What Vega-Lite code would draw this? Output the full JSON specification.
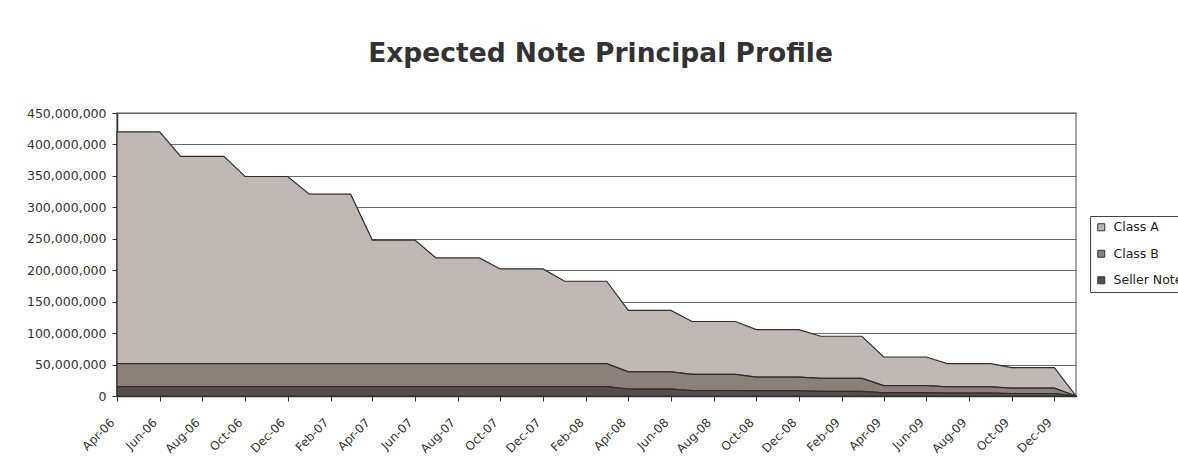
{
  "$schema": "https://vega.github.io/schema/vega-lite/v6.json",
  "autosize": "none",
  "width": 959,
  "height": 283,
  "padding": {"left": 117, "top": 113, "right": 102, "bottom": 70},
  "background": "white",
  "title": {
    "text": "Expected Note Principal Profile",
    "font": "DejaVu Sans",
    "fontSize": 26.5,
    "fontWeight": "bold",
    "color": "#333333",
    "anchor": "middle",
    "baseline": "alphabetic",
    "offset": 19,
    "dx": 4
  },
  "data": {
    "values": [
      {"m":"2006-04-01","s":"Class A","v":368500000},{"m":"2006-04-01","s":"Class B","v":36500000},{"m":"2006-04-01","s":"Seller Note","v":15000000},
      {"m":"2006-05-01","s":"Class A","v":368500000},{"m":"2006-05-01","s":"Class B","v":36500000},{"m":"2006-05-01","s":"Seller Note","v":15000000},
      {"m":"2006-06-01","s":"Class A","v":368500000},{"m":"2006-06-01","s":"Class B","v":36500000},{"m":"2006-06-01","s":"Seller Note","v":15000000},
      {"m":"2006-07-01","s":"Class A","v":329500000},{"m":"2006-07-01","s":"Class B","v":36500000},{"m":"2006-07-01","s":"Seller Note","v":15000000},
      {"m":"2006-08-01","s":"Class A","v":329500000},{"m":"2006-08-01","s":"Class B","v":36500000},{"m":"2006-08-01","s":"Seller Note","v":15000000},
      {"m":"2006-09-01","s":"Class A","v":329500000},{"m":"2006-09-01","s":"Class B","v":36500000},{"m":"2006-09-01","s":"Seller Note","v":15000000},
      {"m":"2006-10-01","s":"Class A","v":297500000},{"m":"2006-10-01","s":"Class B","v":36500000},{"m":"2006-10-01","s":"Seller Note","v":15000000},
      {"m":"2006-11-01","s":"Class A","v":297500000},{"m":"2006-11-01","s":"Class B","v":36500000},{"m":"2006-11-01","s":"Seller Note","v":15000000},
      {"m":"2006-12-01","s":"Class A","v":297500000},{"m":"2006-12-01","s":"Class B","v":36500000},{"m":"2006-12-01","s":"Seller Note","v":15000000},
      {"m":"2007-01-01","s":"Class A","v":269500000},{"m":"2007-01-01","s":"Class B","v":36500000},{"m":"2007-01-01","s":"Seller Note","v":15000000},
      {"m":"2007-02-01","s":"Class A","v":269500000},{"m":"2007-02-01","s":"Class B","v":36500000},{"m":"2007-02-01","s":"Seller Note","v":15000000},
      {"m":"2007-03-01","s":"Class A","v":269500000},{"m":"2007-03-01","s":"Class B","v":36500000},{"m":"2007-03-01","s":"Seller Note","v":15000000},
      {"m":"2007-04-01","s":"Class A","v":196500000},{"m":"2007-04-01","s":"Class B","v":36500000},{"m":"2007-04-01","s":"Seller Note","v":15000000},
      {"m":"2007-05-01","s":"Class A","v":196500000},{"m":"2007-05-01","s":"Class B","v":36500000},{"m":"2007-05-01","s":"Seller Note","v":15000000},
      {"m":"2007-06-01","s":"Class A","v":196500000},{"m":"2007-06-01","s":"Class B","v":36500000},{"m":"2007-06-01","s":"Seller Note","v":15000000},
      {"m":"2007-07-01","s":"Class A","v":168000000},{"m":"2007-07-01","s":"Class B","v":36500000},{"m":"2007-07-01","s":"Seller Note","v":15000000},
      {"m":"2007-08-01","s":"Class A","v":168000000},{"m":"2007-08-01","s":"Class B","v":36500000},{"m":"2007-08-01","s":"Seller Note","v":15000000},
      {"m":"2007-09-01","s":"Class A","v":168000000},{"m":"2007-09-01","s":"Class B","v":36500000},{"m":"2007-09-01","s":"Seller Note","v":15000000},
      {"m":"2007-10-01","s":"Class A","v":150500000},{"m":"2007-10-01","s":"Class B","v":36500000},{"m":"2007-10-01","s":"Seller Note","v":15000000},
      {"m":"2007-11-01","s":"Class A","v":150500000},{"m":"2007-11-01","s":"Class B","v":36500000},{"m":"2007-11-01","s":"Seller Note","v":15000000},
      {"m":"2007-12-01","s":"Class A","v":150500000},{"m":"2007-12-01","s":"Class B","v":36500000},{"m":"2007-12-01","s":"Seller Note","v":15000000},
      {"m":"2008-01-01","s":"Class A","v":131000000},{"m":"2008-01-01","s":"Class B","v":36500000},{"m":"2008-01-01","s":"Seller Note","v":15000000},
      {"m":"2008-02-01","s":"Class A","v":131000000},{"m":"2008-02-01","s":"Class B","v":36500000},{"m":"2008-02-01","s":"Seller Note","v":15000000},
      {"m":"2008-03-01","s":"Class A","v":131000000},{"m":"2008-03-01","s":"Class B","v":36500000},{"m":"2008-03-01","s":"Seller Note","v":15000000},
      {"m":"2008-04-01","s":"Class A","v":97500000},{"m":"2008-04-01","s":"Class B","v":27500000},{"m":"2008-04-01","s":"Seller Note","v":11000000},
      {"m":"2008-05-01","s":"Class A","v":97500000},{"m":"2008-05-01","s":"Class B","v":27500000},{"m":"2008-05-01","s":"Seller Note","v":11000000},
      {"m":"2008-06-01","s":"Class A","v":97500000},{"m":"2008-06-01","s":"Class B","v":27500000},{"m":"2008-06-01","s":"Seller Note","v":11000000},
      {"m":"2008-07-01","s":"Class A","v":84000000},{"m":"2008-07-01","s":"Class B","v":26000000},{"m":"2008-07-01","s":"Seller Note","v":8500000},
      {"m":"2008-08-01","s":"Class A","v":84000000},{"m":"2008-08-01","s":"Class B","v":26000000},{"m":"2008-08-01","s":"Seller Note","v":8500000},
      {"m":"2008-09-01","s":"Class A","v":84000000},{"m":"2008-09-01","s":"Class B","v":26000000},{"m":"2008-09-01","s":"Seller Note","v":8500000},
      {"m":"2008-10-01","s":"Class A","v":75500000},{"m":"2008-10-01","s":"Class B","v":22000000},{"m":"2008-10-01","s":"Seller Note","v":8000000},
      {"m":"2008-11-01","s":"Class A","v":75500000},{"m":"2008-11-01","s":"Class B","v":22000000},{"m":"2008-11-01","s":"Seller Note","v":8000000},
      {"m":"2008-12-01","s":"Class A","v":75500000},{"m":"2008-12-01","s":"Class B","v":22000000},{"m":"2008-12-01","s":"Seller Note","v":8000000},
      {"m":"2009-01-01","s":"Class A","v":67000000},{"m":"2009-01-01","s":"Class B","v":20500000},{"m":"2009-01-01","s":"Seller Note","v":7500000},
      {"m":"2009-02-01","s":"Class A","v":67000000},{"m":"2009-02-01","s":"Class B","v":20500000},{"m":"2009-02-01","s":"Seller Note","v":7500000},
      {"m":"2009-03-01","s":"Class A","v":67000000},{"m":"2009-03-01","s":"Class B","v":20500000},{"m":"2009-03-01","s":"Seller Note","v":7500000},
      {"m":"2009-04-01","s":"Class A","v":45500000},{"m":"2009-04-01","s":"Class B","v":11500000},{"m":"2009-04-01","s":"Seller Note","v":5000000},
      {"m":"2009-05-01","s":"Class A","v":45500000},{"m":"2009-05-01","s":"Class B","v":11500000},{"m":"2009-05-01","s":"Seller Note","v":5000000},
      {"m":"2009-06-01","s":"Class A","v":45500000},{"m":"2009-06-01","s":"Class B","v":11500000},{"m":"2009-06-01","s":"Seller Note","v":5000000},
      {"m":"2009-07-01","s":"Class A","v":37000000},{"m":"2009-07-01","s":"Class B","v":10000000},{"m":"2009-07-01","s":"Seller Note","v":4500000},
      {"m":"2009-08-01","s":"Class A","v":37000000},{"m":"2009-08-01","s":"Class B","v":10000000},{"m":"2009-08-01","s":"Seller Note","v":4500000},
      {"m":"2009-09-01","s":"Class A","v":37000000},{"m":"2009-09-01","s":"Class B","v":10000000},{"m":"2009-09-01","s":"Seller Note","v":4500000},
      {"m":"2009-10-01","s":"Class A","v":32600000},{"m":"2009-10-01","s":"Class B","v":8400000},{"m":"2009-10-01","s":"Seller Note","v":4000000},
      {"m":"2009-11-01","s":"Class A","v":32600000},{"m":"2009-11-01","s":"Class B","v":8400000},{"m":"2009-11-01","s":"Seller Note","v":4000000},
      {"m":"2009-12-01","s":"Class A","v":32600000},{"m":"2009-12-01","s":"Class B","v":8400000},{"m":"2009-12-01","s":"Seller Note","v":4000000},
      {"m":"2010-01-01","s":"Class A","v":0},{"m":"2010-01-01","s":"Class B","v":0},{"m":"2010-01-01","s":"Seller Note","v":0}
    ]
  },
  "mark": {
    "type": "area",
    "interpolate": "linear",
    "opacity": 1,
    "stroke": "#2e2e2e",
    "strokeWidth": 1.2,
    "strokeJoin": "miter"
  },
  "encoding": {
    "x": {
      "field": "m",
      "type": "temporal",
      "scale": {
        "type": "utc",
        "domain": [
          {"year": 2006, "month": 4, "date": 1, "utc": true},
          {"year": 2010, "month": 1, "date": 1, "utc": true}
        ],
        "nice": false
      },
      "axis": {
        "title": null,
        "labelExpr": "utcFormat(datum.value, '%b-%y')",
        "values": [
          {"year": 2006, "month": 4, "date": 1, "utc": true},
          {"year": 2006, "month": 6, "date": 1, "utc": true},
          {"year": 2006, "month": 8, "date": 1, "utc": true},
          {"year": 2006, "month": 10, "date": 1, "utc": true},
          {"year": 2006, "month": 12, "date": 1, "utc": true},
          {"year": 2007, "month": 2, "date": 1, "utc": true},
          {"year": 2007, "month": 4, "date": 1, "utc": true},
          {"year": 2007, "month": 6, "date": 1, "utc": true},
          {"year": 2007, "month": 8, "date": 1, "utc": true},
          {"year": 2007, "month": 10, "date": 1, "utc": true},
          {"year": 2007, "month": 12, "date": 1, "utc": true},
          {"year": 2008, "month": 2, "date": 1, "utc": true},
          {"year": 2008, "month": 4, "date": 1, "utc": true},
          {"year": 2008, "month": 6, "date": 1, "utc": true},
          {"year": 2008, "month": 8, "date": 1, "utc": true},
          {"year": 2008, "month": 10, "date": 1, "utc": true},
          {"year": 2008, "month": 12, "date": 1, "utc": true},
          {"year": 2009, "month": 2, "date": 1, "utc": true},
          {"year": 2009, "month": 4, "date": 1, "utc": true},
          {"year": 2009, "month": 6, "date": 1, "utc": true},
          {"year": 2009, "month": 8, "date": 1, "utc": true},
          {"year": 2009, "month": 10, "date": 1, "utc": true},
          {"year": 2009, "month": 12, "date": 1, "utc": true}
        ],
        "grid": false,
        "labelAngle": -45,
        "labelAlign": "right",
        "labelBaseline": "middle",
        "labelPadding": 19,
        "labelOffset": -5,
        "labelFont": "DejaVu Sans",
        "labelFontSize": 12,
        "labelColor": "#333333",
        "labelOverlap": false,
        "labelBound": false,
        "labelFlush": false,
        "tickSize": 5,
        "tickColor": "#333333",
        "domainColor": "#333333",
        "domainWidth": 1.5
      }
    },
    "y": {
      "field": "v",
      "type": "quantitative",
      "stack": "zero",
      "scale": {"domain": [0, 450000000], "nice": false},
      "axis": {
        "title": null,
        "values": [0, 50000000, 100000000, 150000000, 200000000, 250000000, 300000000, 350000000, 400000000, 450000000],
        "format": ",d",
        "grid": true,
        "gridColor": "#6a6a6a",
        "gridWidth": 1,
        "labelFont": "DejaVu Sans",
        "labelFontSize": 12.5,
        "labelColor": "#333333",
        "labelPadding": 6,
        "tickSize": 5,
        "tickColor": "#333333",
        "domainColor": "#333333",
        "domainWidth": 1.5
      }
    },
    "color": {
      "field": "s",
      "type": "nominal",
      "scale": {
        "domain": ["Class A", "Class B", "Seller Note"],
        "range": ["#C0B8B5", "#8C807B", "#594E4B"]
      },
      "legend": {
        "title": null,
        "orient": "none",
        "legendX": 973,
        "legendY": 103,
        "fillColor": "white",
        "strokeColor": "#444444",
        "padding": 5,
        "symbolType": "square",
        "symbolSize": 49,
        "symbolStrokeColor": "#333333",
        "symbolStrokeWidth": 1,
        "symbolOpacity": 1,
        "labelFont": "DejaVu Sans",
        "labelFontSize": 12.5,
        "labelColor": "#222222",
        "labelOffset": 6,
        "rowPadding": 13.5
      }
    },
    "order": {"field": "s", "sort": "descending"}
  },
  "config": {
    "view": {"stroke": "#8a8a8a", "strokeWidth": 1.5}
  }
}
